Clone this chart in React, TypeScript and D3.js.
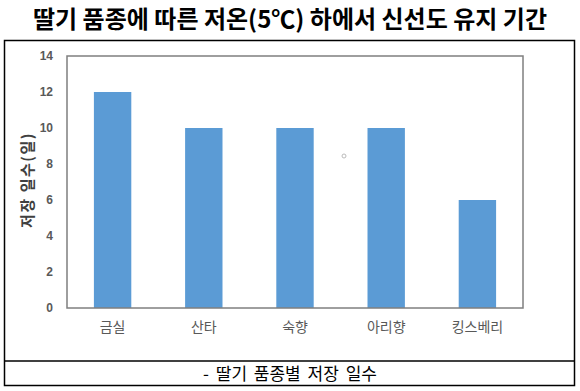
import React, { useEffect, useRef } from "react";
import * as d3 from "d3";

const categories = ["금실", "산타", "숙향", "아리향", "킹스베리"];
const storageDays = [12, 10, 10, 10, 6];
const yTicks = [0, 2, 4, 6, 8, 10, 12, 14];

const title = "딸기 품종에 따른 저온(5℃) 하에서 신선도 유지 기간";
const caption = "- 딸기 품종별 저장 일수";
const yLabel = "저장 일수(일)";

export default function App() {
  const ref = useRef<SVGSVGElement>(null);

  useEffect(() => {
    const svg = d3.select(ref.current);
    svg.selectAll("*").remove();

    const width = 580;
    const height = 391;
    const plot = { left: 67, right: 523, top: 56, bottom: 308 };
    const font = "'Noto Sans CJK KR', 'Noto Sans', sans-serif";

    svg.append("rect").attr("width", width).attr("height", height).attr("fill", "#fff");

    // title
    svg.append("text")
      .attr("x", 290)
      .attr("y", 28)
      .attr("text-anchor", "middle")
      .style("font-family", font)
      .style("font-size", "24px")
      .style("font-weight", "bold")
      .attr("fill", "#000")
      .text(title);

    // outer frame + caption row
    svg.append("rect")
      .attr("x", 4.5).attr("y", 40.5)
      .attr("width", 570).attr("height", 345)
      .attr("fill", "none").attr("stroke", "#000").attr("stroke-width", 1.5);
    svg.append("line")
      .attr("x1", 4.5).attr("x2", 574.5)
      .attr("y1", 361).attr("y2", 361)
      .attr("stroke", "#000").attr("stroke-width", 1.5);
    svg.append("text")
      .attr("x", 290)
      .attr("y", 380)
      .attr("text-anchor", "middle")
      .style("font-family", font)
      .style("font-size", "17px")
      .style("word-spacing", "3px")
      .attr("fill", "#000")
      .text(caption);

    const x = d3.scaleBand()
      .domain(categories)
      .range([plot.left, plot.right])
      .paddingInner(0.59)
      .paddingOuter(0.295);

    const y = d3.scaleLinear()
      .domain([0, 14])
      .range([plot.bottom, plot.top]);

    // bars
    svg.append("g")
      .selectAll("rect")
      .data(storageDays)
      .enter().append("rect")
      .attr("x", (d, i) => x(categories[i]) as number)
      .attr("y", d => y(d))
      .attr("width", x.bandwidth())
      .attr("height", d => y(0) - y(d))
      .attr("fill", "#5b9bd5");

    // plot area border
    svg.append("rect")
      .attr("x", plot.left).attr("y", plot.top)
      .attr("width", plot.right - plot.left)
      .attr("height", plot.bottom - plot.top)
      .attr("fill", "none").attr("stroke", "#7f7f7f").attr("stroke-width", 1.5);

    // y ticks
    const yAxis = svg.append("g")
      .attr("transform", `translate(${plot.left},0)`)
      .call(d3.axisLeft(y).tickValues(yTicks).tickSize(0).tickPadding(14));
    yAxis.select(".domain").remove();
    yAxis.selectAll("text")
      .style("font-family", "Arial, 'Liberation Sans', sans-serif")
      .style("font-size", "12px")
      .style("font-weight", "bold")
      .attr("fill", "#595959");

    // x labels
    const xAxis = svg.append("g")
      .attr("transform", `translate(0,${plot.bottom})`)
      .call(d3.axisBottom(x).tickSize(0).tickPadding(14));
    xAxis.select(".domain").remove();
    xAxis.selectAll("text")
      .style("font-family", font)
      .style("font-size", "14px")
      .attr("fill", "#595959");

    // y label
    svg.append("text")
      .attr("transform", "translate(33,180) rotate(-90)")
      .attr("text-anchor", "middle")
      .style("font-family", font)
      .style("font-size", "15px")
      .style("font-weight", "bold")
      .style("letter-spacing", "1.5px")
      .attr("fill", "#404040")
      .text(yLabel);

    // small stray marker
    svg.append("circle")
      .attr("cx", 344).attr("cy", 156).attr("r", 2)
      .attr("fill", "none").attr("stroke", "#bbb").attr("stroke-width", 1);
  }, []);

  return (
    <svg
      ref={ref}
      width={580}
      height={391}
      style={{ position: "absolute", left: 0, top: 0, display: "block" }}
    />
  );
}
